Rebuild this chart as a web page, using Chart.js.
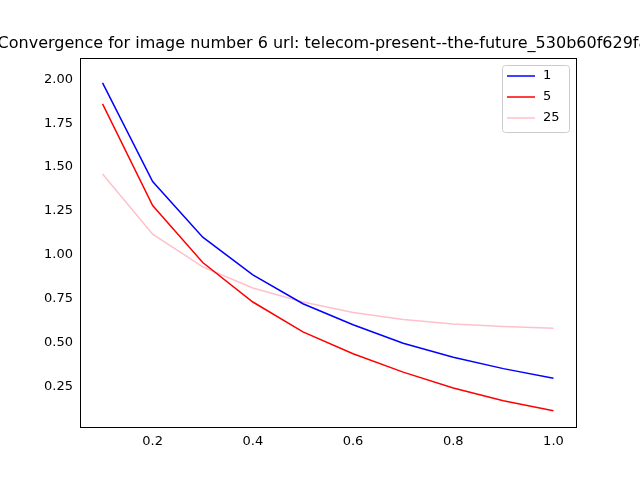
<!DOCTYPE html>
<html>
<head>
<script src="https://cdn.jsdelivr.net/npm/chart.js@4"></script>
<style>body{margin:0;background:#fff}#wrap{width:640px;height:480px}</style>
</head>
<body>
<div id="wrap"><canvas id="c"></canvas></div>
<script>
const xs = [0.1, 0.2, 0.3, 0.4, 0.5, 0.6, 0.7, 0.8, 0.9, 1.0];
const s1 = [1.98, 1.417, 1.10, 0.885, 0.72, 0.60, 0.495, 0.415, 0.35, 0.295];
const s5 = [1.86, 1.28, 0.955, 0.73, 0.56, 0.435, 0.33, 0.24, 0.167, 0.11];
const s25 = [1.46, 1.117, 0.93, 0.81, 0.73, 0.67, 0.63, 0.605, 0.59, 0.58];
const names = ['1', '5', '25'];
const colors = ['blue', 'red', 'pink'];
const title = 'Convergence for image number 6 url: telecom-present--the-future_530b60f629fab';

const toPts = arr => arr.map((y, i) => ({x: xs[i], y: y}));

const frame = {
  id: 'frame',
  afterDraw(chart) {
    const {ctx, chartArea: a} = chart;
    ctx.save();
    ctx.strokeStyle = '#000'; ctx.lineWidth = 1;
    ctx.strokeRect(a.left + 0.5, a.top + 0.5, a.right - a.left, a.bottom - a.top);
    ctx.fillStyle = '#000';
    ctx.font = '16px "DejaVu Sans"';
    ctx.textAlign = 'center'; ctx.textBaseline = 'bottom';
    ctx.fillText(title, (a.left + a.right) / 2, a.top - 6);
    // legend
    const lx = 502, ly = 65, w = 67, h = 67;
    ctx.fillStyle = 'rgba(255,255,255,0.8)';
    ctx.strokeStyle = '#ccc';
    ctx.beginPath(); ctx.roundRect(lx + 0.5, ly + 0.5, w, h, 3); ctx.fill(); ctx.stroke();
    ctx.font = '13px "DejaVu Sans"'; ctx.textAlign = 'left'; ctx.textBaseline = 'middle';
    names.forEach((n, i) => {
      const y = ly + 11 + i * 21;
      ctx.strokeStyle = colors[i]; ctx.lineWidth = 1.5;
      ctx.beginPath(); ctx.moveTo(lx + 5, y); ctx.lineTo(lx + 33, y); ctx.stroke();
      ctx.fillStyle = '#000';
      ctx.fillText(n, lx + 41, y);
    });
    ctx.restore();
  }
};

new Chart(document.getElementById('c'), {
  type: 'line',
  data: {
    datasets: [s1, s5, s25].map((s, i) => ({
      label: names[i], data: toPts(s), borderColor: colors[i],
      borderWidth: 1.5, pointRadius: 0, fill: false, tension: 0
    }))
  },
  options: {
    responsive: true, maintainAspectRatio: false, animation: false,
    layout: {padding: {top: 58, right: 64, left: 0, bottom: 0}},
    plugins: {legend: {display: false}, tooltip: {enabled: false}},
    scales: {
      x: {
        type: 'linear', min: 0.055, max: 1.045,
        grid: {display: false, drawTicks: true, tickLength: 4, tickColor: '#000'},
        border: {display: false},
        afterFit: ax => { ax.height = 53; },
        afterBuildTicks: ax => { ax.ticks = [0.2, 0.4, 0.6, 0.8, 1.0].map(v => ({value: v})); },
        ticks: {color: '#000', font: {family: 'DejaVu Sans', size: 13}, padding: 3,
          maxRotation: 0, callback: v => v.toFixed(1)}
      },
      y: {
        min: 0.017, max: 2.122,
        grid: {display: false, drawTicks: true, tickLength: 4, tickColor: '#000'},
        border: {display: false},
        afterFit: ax => { ax.width = 80; },
        afterBuildTicks: ax => { ax.ticks = [0.25, 0.5, 0.75, 1, 1.25, 1.5, 1.75, 2].map(v => ({value: v})); },
        ticks: {color: '#000', font: {family: 'DejaVu Sans', size: 13}, padding: 3,
          callback: v => v.toFixed(2)}
      }
    }
  },
  plugins: [frame]
});
</script>
</body>
</html>
